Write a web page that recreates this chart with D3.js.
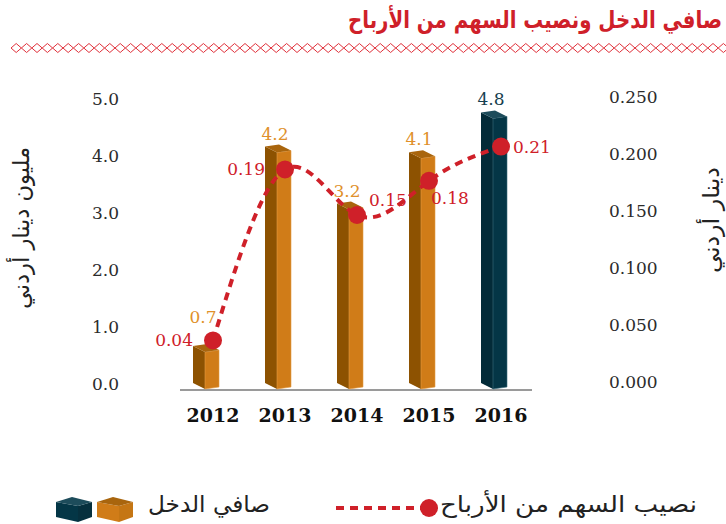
<!DOCTYPE html>
<html>
<head>
<meta charset="utf-8">
<script src="https://cdn.jsdelivr.net/npm/d3@7"></script>
<style>
  body { margin: 0; background: #fff; }
  svg { display: block; }
</style>
</head>
<body>
<div id="chart"></div>
<script>
// data
var years = ["2012", "2013", "2014", "2015", "2016"];
var netIncome = [0.7, 4.2, 3.2, 4.1, 4.8];          // مليون دينار أردني
var dividend = [0.04, 0.19, 0.15, 0.18, 0.21];      // دينار أردني
var leftTicks = [0, 1, 2, 3, 4, 5];
var rightTicks = [0, 0.05, 0.1, 0.15, 0.2, 0.25];
// where each dividend label sits next to its dot
var divLabelSide = ["left", "left", "upright", "below", "right"];

var title = "صافي الدخل ونصيب السهم من الأرباح";
var leftTitle = "مليون دينار أردني";
var rightTitle = "دينار أردني";
var legendBars = "صافي الدخل";
var legendLine = "نصيب السهم من الأرباح";

var W = 726, H = 524;
var red = "#cf2029";
var orange = {front: "#d07c18", side: "#8d5201", top: "#a9650d", text: "#e0902a"};
var teal = {front: "#043646", side: "#032b38", top: "#1d4c5b", text: "#173f4f"};
var serif = "'DejaVu Serif', 'Liberation Serif', serif";
var arab = "'DejaVu Sans', sans-serif";

var svg = d3.select("#chart").append("svg")
    .attr("width", W)
    .attr("height", H);

// scales
var x = d3.scalePoint()
    .domain(years)
    .range([213, 501]);

var y = d3.scaleLinear()
    .domain([0, 5])
    .range([386, 101]);

var y2 = d3.scaleLinear()
    .domain([0, 0.25])
    .range([386, 101]);

// arabic label, squeezed horizontally to the length it has in the picture
// pre = translate/rotate placed before the squeeze
function arabic(pre, str, size, len, anchor, bold) {
    var t = svg.append("text")
        .attr("x", 0)
        .attr("y", 0)
        .attr("text-anchor", anchor || "start")
        .attr("direction", "rtl")
        .style("font-family", arab)
        .style("font-weight", bold ? "bold" : "normal")
        .style("font-size", size + "px")
        .style("fill", "#222")
        .text(str);
    var w = t.node().getComputedTextLength();
    var k = w > 0 ? len / w : 1;
    t.attr("transform", pre + "scale(" + k.toFixed(3) + ",1)");
    return t;
}

// title + diamond rule
arabic("translate(722,28)", title, 24, 374, "start", true)
    .style("fill", red);

var dw = 10.4, dpath = "";
for (var dx = 11; dx + dw <= W + dw; dx += dw) {
    dpath += "M" + dx + ",48L" + (dx + dw / 2) + ",43.5L" + (dx + dw) + ",48L" + (dx + dw / 2) + ",52.5Z";
}
svg.append("path")
    .attr("d", dpath)
    .attr("fill", "none")
    .attr("stroke", "#e0303a")
    .attr("stroke-width", 1);

// left axis (labels only)
svg.append("g")
    .selectAll("text")
    .data(leftTicks)
    .enter()
    .append("text")
        .attr("x", 119)
        .attr("y", function(d) { return y(d) + 4; })
        .attr("text-anchor", "end")
        .style("font-family", serif)
        .style("font-size", "17px")
        .style("fill", "#2b2b2b")
        .text(function(d) { return d3.format(".1f")(d); });

// right axis (labels only)
svg.append("g")
    .selectAll("text")
    .data(rightTicks)
    .enter()
    .append("text")
        .attr("x", 609)
        .attr("y", function(d) { return y2(d) + 2; })
        .style("font-family", serif)
        .style("font-size", "17px")
        .style("fill", "#2b2b2b")
        .text(function(d) { return d3.format(".3f")(d); });

// axis titles
arabic("translate(29,228)rotate(-90)", leftTitle, 23, 162, "middle");
arabic("translate(719,220)rotate(-90)", rightTitle, 23, 106, "middle");

// baseline
svg.append("line")
    .attr("x1", 180)
    .attr("x2", 532)
    .attr("y1", 390)
    .attr("y2", 390)
    .attr("stroke", "#9a9a9a")
    .attr("stroke-width", 2);

// 3d bar pieces
function sidePts(cx, t, b) {
    return [[cx - 20, t], [cx - 8, t + 6], [cx - 8, b + 3], [cx - 20, b - 3]];
}
function frontPts(cx, t, b) {
    return [[cx - 8, t + 6], [cx + 6, t + 4], [cx + 6, b + 1], [cx - 8, b + 3]];
}
function topPts(cx, t) {
    return [[cx - 20, t], [cx - 6, t - 2], [cx + 6, t + 4], [cx - 8, t + 6]];
}
function colorOf(i) { return i == years.length - 1 ? teal : orange; }

var bars = svg.append("g")
    .selectAll("g")
    .data(netIncome)
    .enter()
    .append("g");

bars.append("polygon")
    .attr("points", function(d, i) { return sidePts(x(years[i]), y(d), y(0)).join(" "); })
    .attr("fill", function(d, i) { return colorOf(i).side; });
bars.append("polygon")
    .attr("points", function(d, i) { return frontPts(x(years[i]), y(d), y(0)).join(" "); })
    .attr("fill", function(d, i) { return colorOf(i).front; })
    .attr("stroke", function(d, i) { return i == years.length - 1 ? "#3d6f7e" : "#e39a45"; })
    .attr("stroke-width", 0.6);
bars.append("polygon")
    .attr("points", function(d, i) { return topPts(x(years[i]), y(d)).join(" "); })
    .attr("fill", function(d, i) { return colorOf(i).top; });

// bar values, kept clear of the dividend dot
bars.append("text")
    .attr("x", function(d, i) { return x(years[i]) - 10; })
    .attr("y", function(d, i) { return Math.min(y(d) - 7, y2(dividend[i]) - 17); })
    .attr("text-anchor", "middle")
    .style("font-family", serif)
    .style("font-size", "17px")
    .style("fill", function(d, i) { return colorOf(i).text; })
    .text(function(d) { return d3.format(".1f")(d); });

// x labels
svg.append("g")
    .selectAll("text")
    .data(years)
    .enter()
    .append("text")
        .attr("x", function(d) { return x(d); })
        .attr("y", 422)
        .attr("text-anchor", "middle")
        .style("font-family", serif)
        .style("font-weight", "bold")
        .style("font-size", "19px")
        .style("fill", "#111")
        .text(function(d) { return d; });

// dividend line
var line = d3.line()
    .x(function(d, i) { return x(years[i]); })
    .y(function(d) { return y2(d); })
    .curve(d3.curveNatural);

svg.append("path")
    .datum(dividend)
    .attr("d", line)
    .attr("fill", "none")
    .attr("stroke", red)
    .attr("stroke-width", 4)
    .attr("stroke-dasharray", "8,6");

svg.append("g")
    .selectAll("circle")
    .data(dividend)
    .enter()
    .append("circle")
        .attr("cx", function(d, i) { return x(years[i]); })
        .attr("cy", function(d) { return y2(d); })
        .attr("r", 9)
        .attr("fill", red);

svg.append("g")
    .selectAll("text")
    .data(dividend)
    .enter()
    .append("text")
        .attr("x", function(d, i) {
            var s = divLabelSide[i], cx = x(years[i]);
            if (s == "left") return cx - 20;
            if (s == "below") return cx + 2;
            return cx + 12;
        })
        .attr("y", function(d, i) {
            var s = divLabelSide[i], cy = y2(d);
            if (s == "upright") return cy - 9;
            if (s == "below") return cy + 23;
            return cy + 6;
        })
        .attr("text-anchor", function(d, i) { return divLabelSide[i] == "left" ? "end" : "start"; })
        .style("font-family", serif)
        .style("font-size", "17px")
        .style("fill", red)
        .text(function(d) { return d3.format(".2f")(d); });

// legend
var lg = svg.append("g");

function box(g, x0, y0, c) {
    // small 3d block: left face, right face, top
    g.append("polygon")
        .attr("points", [[x0, y0 + 5], [x0 + 22, y0 + 9], [x0 + 22, y0 + 25], [x0, y0 + 20]].join(" "))
        .attr("fill", c.front);
    g.append("polygon")
        .attr("points", [[x0 + 22, y0 + 9], [x0 + 36, y0 + 5], [x0 + 36, y0 + 20], [x0 + 22, y0 + 25]].join(" "))
        .attr("fill", c.side == orange.side ? "#c57614" : "#06303e");
    g.append("polygon")
        .attr("points", [[x0, y0 + 5], [x0 + 16, y0], [x0 + 36, y0 + 5], [x0 + 22, y0 + 9]].join(" "))
        .attr("fill", c.top);
}
box(lg, 56, 497, teal);
box(lg, 97, 497, orange);

arabic("translate(270,512)", legendBars, 23, 122);

lg.append("line")
    .attr("x1", 336)
    .attr("x2", 425)
    .attr("y1", 508)
    .attr("y2", 508)
    .attr("stroke", red)
    .attr("stroke-width", 4)
    .attr("stroke-dasharray", "8,6");

lg.append("circle")
    .attr("cx", 429)
    .attr("cy", 508)
    .attr("r", 9)
    .attr("fill", red);

arabic("translate(697,512)", legendLine, 23, 257);
</script>
</body>
</html>
